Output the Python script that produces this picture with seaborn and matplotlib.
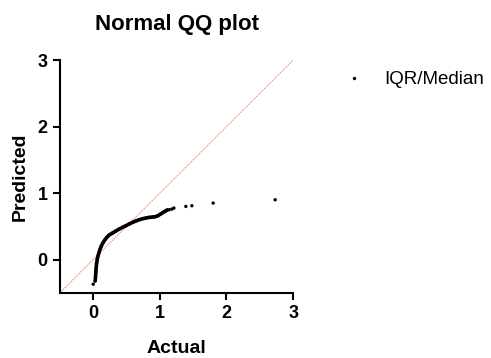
import matplotlib
matplotlib.use("Agg")
import matplotlib.pyplot as plt
import seaborn as sns
import pandas as pd

# Dense part of the QQ curve (Actual, Predicted)
curve_actual = [0.03, 0.035, 0.04, 0.045, 0.05, 0.06, 0.07, 0.085, 0.10, 0.12,
                0.145, 0.17, 0.20, 0.24, 0.29, 0.34, 0.39, 0.44, 0.49, 0.54,
                0.59, 0.64, 0.69, 0.74, 0.79, 0.84, 0.89, 0.93, 0.97, 1.01,
                1.05, 1.09, 1.11]
curve_predicted = [-0.32, -0.25, -0.18, -0.12, -0.06, 0.0, 0.05, 0.10, 0.15, 0.20,
                   0.25, 0.29, 0.33, 0.37, 0.40, 0.43, 0.46, 0.485, 0.51, 0.535,
                   0.56, 0.58, 0.60, 0.615, 0.625, 0.635, 0.64, 0.645, 0.66, 0.685,
                   0.71, 0.735, 0.745]
# Isolated points
sparse_actual = [0.00, 1.14, 1.18, 1.21, 1.39, 1.48, 1.80, 2.73]
sparse_predicted = [-0.37, 0.75, 0.76, 0.775, 0.80, 0.81, 0.85, 0.90]

series_label = "IQR/Median"
x_ticks = [0, 1, 2, 3]
y_ticks = [0, 1, 2, 3]
diag = [-0.5, 3]

sns.set_theme(style="ticks")
plt.rcParams["font.family"] = ["Liberation Sans", "DejaVu Sans"]
plt.rcParams["text.color"] = "black"
plt.rcParams["axes.labelcolor"] = "black"

fig = plt.figure(figsize=(4.91, 3.58), dpi=100)
ax = fig.add_axes([0.122, 0.182, 0.475, 0.650])

curve_df = pd.DataFrame({"Actual": curve_actual, "Predicted": curve_predicted})
all_df = pd.DataFrame({"Actual": curve_actual + sparse_actual,
                       "Predicted": curve_predicted + sparse_predicted,
                       "series": series_label})

# identity line
sns.lineplot(x=diag, y=diag, ax=ax, color="#f4877f", linewidth=0.7,
             linestyle=(0, (1.5, 0.8)), legend=False)
# dense curve
sns.lineplot(data=curve_df, x="Actual", y="Predicted", ax=ax, color="black",
             linewidth=2.6, estimator=None, sort=False, legend=False)
# points
sns.scatterplot(data=all_df, x="Actual", y="Predicted", hue="series",
                palette=["black"], s=6, edgecolor="none", ax=ax)

ax.set_xlim(-0.5, 3)
ax.set_ylim(-0.5, 3)
ax.set_xticks(x_ticks)
ax.set_yticks(y_ticks)
ax.set_xticklabels([str(t) for t in x_ticks], fontsize=13, fontweight="bold")
ax.set_yticklabels([str(t) for t in y_ticks], fontsize=13, fontweight="bold")
ax.tick_params(axis="both", direction="out", length=5, width=1.5, pad=4,
               colors="black", labelcolor="black")
for side in ["left", "bottom"]:
    ax.spines[side].set_linewidth(1.5)
    ax.spines[side].set_color("black")
sns.despine(ax=ax)

ax.set_xlabel("Actual", fontsize=14, fontweight="bold", labelpad=13, color="black")
ax.set_ylabel("Predicted", fontsize=14, fontweight="bold", labelpad=6, color="black")
ax.set_title("Normal QQ plot", fontsize=16, fontweight="bold", pad=22, color="black")

leg = ax.legend(loc="upper left", bbox_to_anchor=(1.18, 0.985), frameon=False,
                fontsize=13.5, markerscale=1.0, handletextpad=1.0,
                handlelength=1.2, borderaxespad=0)
for t in leg.get_texts():
    t.set_color("black")

fig.savefig("out.png", dpi=100)
